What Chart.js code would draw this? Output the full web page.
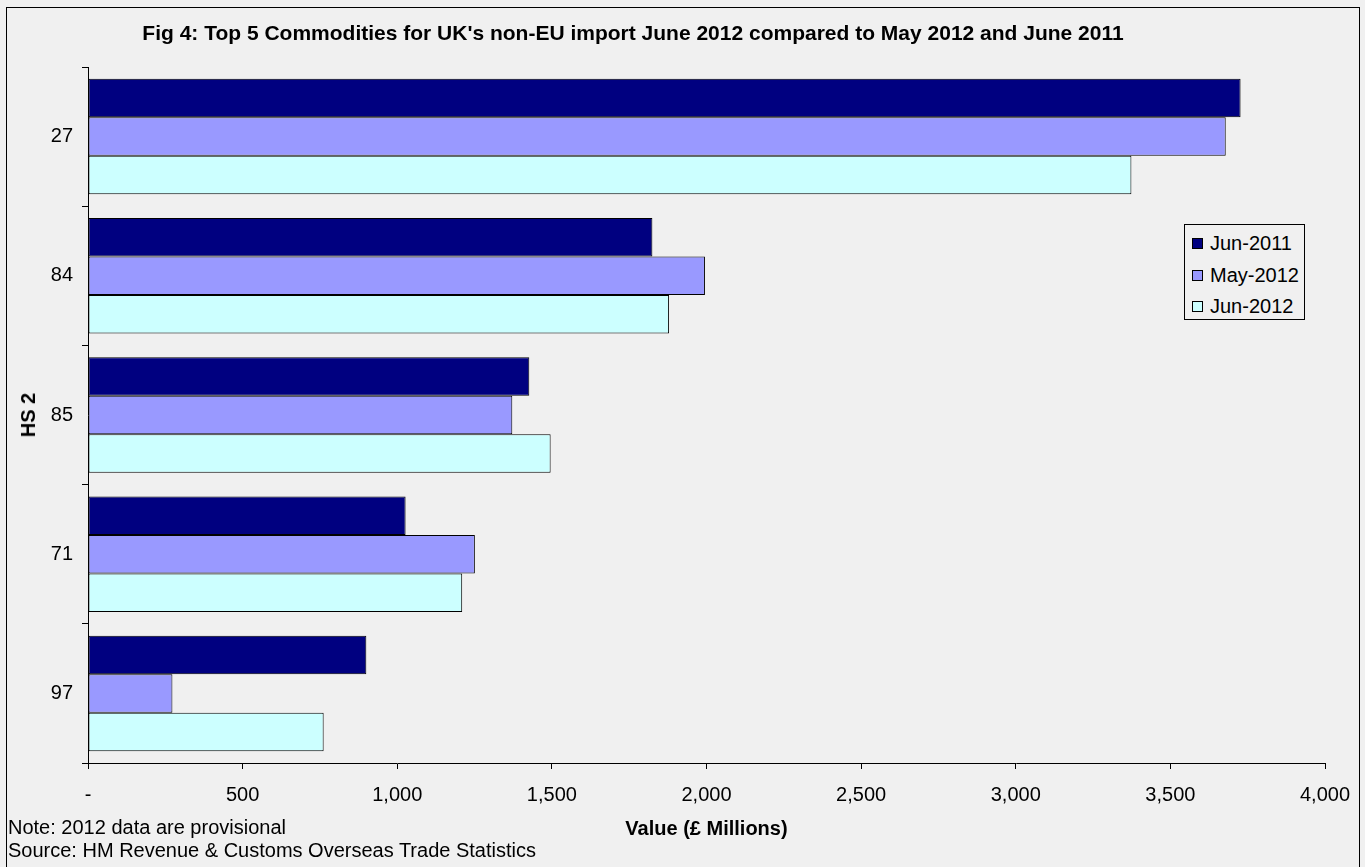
<!DOCTYPE html>
<html>
<head>
<meta charset="utf-8">
<script src="https://cdn.jsdelivr.net/npm/chart.js@4"></script>
<style>
  html, body { margin: 0; padding: 0; background: #f0f0f0; }
  body { width: 1365px; height: 867px; position: relative; overflow: hidden; font-family: "Liberation Sans", Arial, sans-serif; }
  #frame { position: absolute; left: 6px; top: 7px; width: 1352px; height: 880px; border: 1px solid #000; }
  #chart { position: absolute; left: 0; top: 0; }
  .txt { position: absolute; white-space: nowrap; color: #000; line-height: 24px; }
  #title { left: 0; width: 1266px; top: 21px; text-align: center; font-weight: bold; font-size: 21px; }
  #xTitle { left: 0; width: 1413px; top: 816px; text-align: center; font-weight: bold; font-size: 20px; }
  #yTitle { left: 28px; top: 415px; font-weight: bold; font-size: 20px; transform: translate(-50%, -50%) rotate(-90deg); }
  #note { left: 8px; top: 815px; font-size: 20px; }
  #source { left: 8px; top: 838px; font-size: 20px; }
  #legend { position: absolute; left: 1184px; top: 224px; width: 119px; height: 94px; border: 1px solid #000; background: #f0f0f0; }
  .item { position: absolute; left: 7px; font-size: 20px; line-height: 22px; white-space: nowrap; }
  .sw { display: inline-block; width: 9px; height: 9px; border: 1px solid #000; margin-right: 7px; vertical-align: 1px; }
</style>
</head>
<body>
<div id="frame"></div>
<canvas id="chart" width="1365" height="867"></canvas>
<div class="txt" id="title">Fig 4: Top 5 Commodities for UK's non-EU import June 2012 compared to May 2012 and June 2011</div>
<div class="txt" id="xTitle">Value (£ Millions)</div>
<div class="txt" id="yTitle">HS 2</div>
<div class="txt" id="note">Note: 2012 data are provisional</div>
<div class="txt" id="source">Source: HM Revenue &amp; Customs Overseas Trade Statistics</div>
<div id="legend"></div>
<script>
// HS2 commodity codes, top to bottom
const categories = ['27', '84', '85', '71', '97'];

// values in £ millions
const jun2011 = [3727, 1825, 1427, 1027, 900];
const may2012 = [3679, 1995, 1372, 1251, 273];
const jun2012 = [3374, 1879, 1496, 1210, 762];

const seriesNames = ['Jun-2011', 'May-2012', 'Jun-2012'];
const seriesColors = ['#000080', '#9999ff', '#ccffff'];

const xTicks = [0, 500, 1000, 1500, 2000, 2500, 3000, 3500, 4000];

const tickFont = { family: "'Liberation Sans', Arial, sans-serif", size: 20 };

const seriesData = [jun2011, may2012, jun2012];
const datasets = seriesNames.map(function(name, i) {
    return {
        label: name,
        data: seriesData[i],
        backgroundColor: seriesColors[i],
        borderColor: '#000',
        borderWidth: 1,
        borderSkipped: false,
        categoryPercentage: 0.83,
        barPercentage: 1.0
    };
});

// html legend
const legendEl = document.getElementById('legend');
seriesNames.forEach(function(name, i) {
    const row = document.createElement('div');
    row.className = 'item';
    row.style.top = (7 + i * 31.5) + 'px';
    row.innerHTML = '<span class="sw" style="background:' + seriesColors[i] + '"></span>' + name;
    legendEl.appendChild(row);
});

new Chart(document.getElementById('chart'), {
    type: 'bar',
    data: { labels: categories, datasets: datasets },
    options: {
        indexAxis: 'y',
        responsive: false,
        animation: false,
        devicePixelRatio: 1,
        layout: { padding: { left: 48, right: 40, top: 67, bottom: 54 } },
        plugins: {
            legend: { display: false },
            title: { display: false },
            tooltip: { enabled: false }
        },
        scales: {
            x: {
                min: 0,
                max: 4000,
                afterFit: function(scale) { scale.height = 50; },
                afterBuildTicks: function(scale) {
                    scale.ticks = xTicks.map(function(v) { return { value: v }; });
                },
                ticks: {
                    color: '#000',
                    font: tickFont,
                    padding: 14,
                    maxRotation: 0,
                    autoSkip: false,
                    callback: function(v) { return v === 0 ? '-' : v.toLocaleString('en-US'); }
                },
                grid: { drawOnChartArea: false, drawTicks: true, tickLength: 6, color: '#000' },
                border: { color: '#000', width: 1 }
            },
            y: {
                afterFit: function(scale) { scale.width = 40; },
                ticks: { color: '#000', font: tickFont, padding: 9 },
                grid: { drawOnChartArea: false, drawTicks: true, tickLength: 6, color: '#000' },
                border: { color: '#000', width: 1 }
            }
        }
    }
});
</script>
</body>
</html>
